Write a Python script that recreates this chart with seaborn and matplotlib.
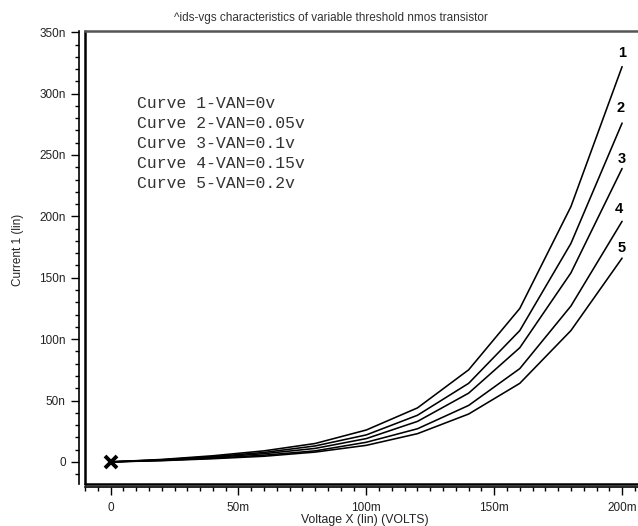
import matplotlib
matplotlib.use("Agg")
import matplotlib.pyplot as plt
import seaborn as sns
import pandas as pd
from matplotlib.ticker import MultipleLocator, FixedLocator

# ---- data (voltage in mV, current in nA) ----
voltage_mV = [0, 20, 40, 60, 80, 100, 120, 140, 160, 180, 200]
curve1_nA = [0, 2.0, 5.0, 9.0, 15, 26, 44, 75, 125, 208, 322]
curve2_nA = [0, 1.7, 4.3, 7.7, 13, 22, 38, 64, 107, 178, 276]
curve3_nA = [0, 1.5, 3.7, 6.7, 11, 19, 33, 56, 93, 154, 239]
curve4_nA = [0, 1.2, 3.0, 5.5, 9, 16, 27, 46, 76, 127, 196]
curve5_nA = [0, 1.0, 2.6, 4.6, 8, 13.5, 23, 39, 64, 107, 166]
curve_names = ["1", "2", "3", "4", "5"]
legend_lines = ["Curve 1-VAN=0v", "Curve 2-VAN=0.05v", "Curve 3-VAN=0.1v",
                "Curve 4-VAN=0.15v", "Curve 5-VAN=0.2v"]
x_ticks = [0, 50, 100, 150, 200]
x_tick_labels = ["0", "50m", "100m", "150m", "200m"]
y_ticks = [0, 50, 100, 150, 200, 250, 300, 350]
y_tick_labels = ["0", "50n", "100n", "150n", "200n", "250n", "300n", "350n"]
title_text = "^ids-vgs characteristics of variable threshold nmos transistor"

curves = [curve1_nA, curve2_nA, curve3_nA, curve4_nA, curve5_nA]
rows = []
for name, vals in zip(curve_names, curves):
    for v, i in zip(voltage_mV, vals):
        rows.append({"v": v, "i": i, "curve": name})
df = pd.DataFrame(rows)

sns.set_style("ticks")
plt.rcParams['font.family'] = ['Liberation Sans', 'DejaVu Sans']

W, H = 638, 526
fig = plt.figure(figsize=(W / 100, H / 100), dpi=100)
L, R, T, B = 85, 640, 31, 484
ax = fig.add_axes([L / W, 1 - B / H, (R - L) / W, (B - T) / H])

sns.lineplot(data=df, x="v", y="i", hue="curve", palette=["black"] * 5,
             legend=False, linewidth=1.15, ax=ax, estimator=None, sort=False)
ax.plot([voltage_mV[0]], [curve1_nA[0]], marker="x", ms=9, mew=2.8,
        color="black", clip_on=False)

ax.set_xlim(-10, 207)
ax.set_ylim(-18, 351)

ax.spines["right"].set_visible(False)
ax.spines["top"].set_linewidth(1.8)
ax.spines["top"].set_color("#555555")
ax.spines["left"].set_position(("outward", 4.0))
ax.spines["bottom"].set_position(("outward", 2.2))
for s in ("left", "bottom"):
    ax.spines[s].set_linewidth(1.2)
    ax.spines[s].set_color("black")
# inner frame lines
ax.plot([0, 0], [0, 1], transform=ax.transAxes, color="black", lw=1.8, clip_on=False)
ax.plot([0, 1], [0, 0], transform=ax.transAxes, color="black", lw=1.8, clip_on=False)

ax.xaxis.set_major_locator(FixedLocator(x_ticks))
ax.set_xticklabels(x_tick_labels)
ax.xaxis.set_minor_locator(MultipleLocator(5))
ax.yaxis.set_major_locator(FixedLocator(y_ticks))
ax.set_yticklabels(y_tick_labels)
ax.yaxis.set_minor_locator(MultipleLocator(10))
ax.tick_params(axis="both", which="major", direction="out", length=5.8, width=1,
               color="black", labelsize=8.5, labelcolor="#222222", pad=4)
ax.tick_params(axis="x", which="major", pad=5)
ax.tick_params(axis="both", which="minor", direction="out", length=2.9, width=1,
               color="black")
ax.tick_params(top=False, right=False, which="both")
ax.set_xlabel("")
ax.set_ylabel("")

fig.text(365 / W, 1 - 520 / H, "Voltage X (lin) (VOLTS)", ha="center", va="center",
         fontsize=8.8, color="#222222")
fig.text(18 / W, 1 - 250 / H, "Current 1 (lin)", ha="center", va="center",
         rotation=90, fontsize=8.5, color="#222222")
fig.text(331 / W, 1 - 18 / H, title_text, ha="center", va="center",
         fontsize=8.5, color="#333333")

for k, line in enumerate(legend_lines):
    fig.text(137 / W, 1 - (104 + 20 * k) / H, line, family="Liberation Mono",
             fontsize=11.8, ha="left", va="center", color="#333333")

label_offsets_pt = [9.5, 10.5, 7, 8.5, 7.5]
label_dx_pt = [0, -1, 0, -2, 0]
for name, vals, off, dx in zip(curve_names, curves, label_offsets_pt, label_dx_pt):
    ax.annotate(name, xy=(voltage_mV[-1], vals[-1]), xytext=(dx, off),
                textcoords="offset points", ha="center", va="center",
                fontweight="bold", fontsize=10.5, color="black",
                annotation_clip=False)

fig.savefig("out.png", dpi=100)
